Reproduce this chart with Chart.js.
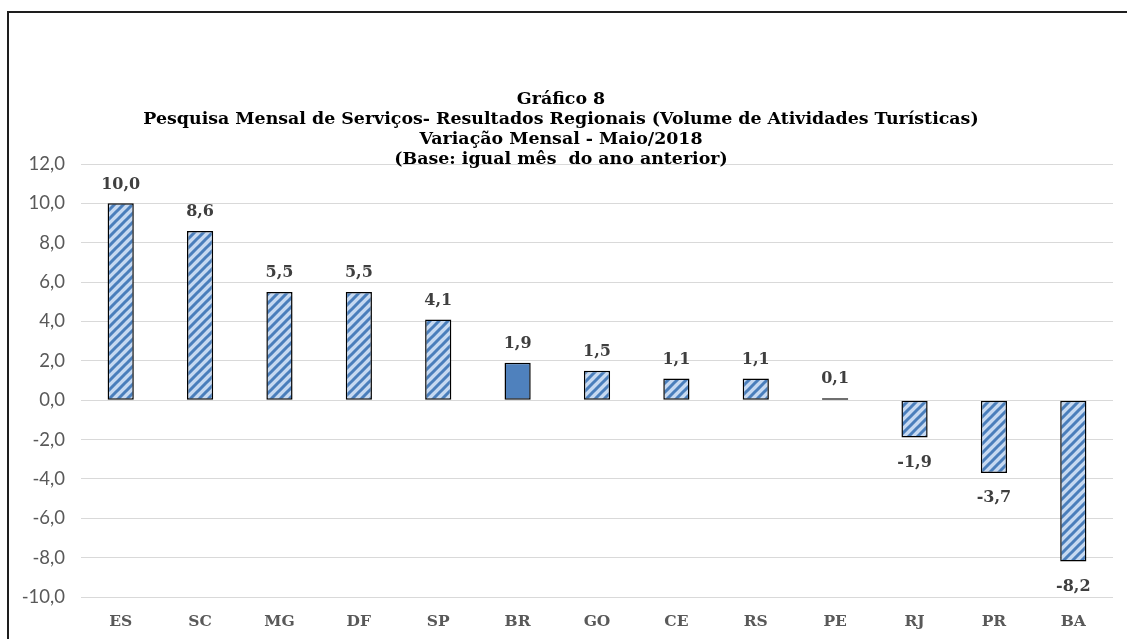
<!DOCTYPE html>
<html>
<head>
<meta charset="utf-8">
<script src="https://cdn.jsdelivr.net/npm/chart.js@4"></script>
<style>
  html, body { margin: 0; padding: 0; background: #fff; }
  #frame {
    position: absolute; left: 7px; top: 11px;
    width: 1118px; height: 626px;
    border-left: 2px solid #1e1e1e; border-top: 2px solid #1e1e1e;
  }
</style>
</head>
<body>
<div id="frame"><canvas id="plot"></canvas></div>
<script>
const titleLines = [
    'Gráfico 8',
    'Pesquisa Mensal de Serviços- Resultados Regionais (Volume de Atividades Turísticas)',
    'Variação Mensal - Maio/2018',
    '(Base: igual mês  do ano anterior)'
];
const regions = ['ES', 'SC', 'MG', 'DF', 'SP', 'BR', 'GO', 'CE', 'RS', 'PE', 'RJ', 'PR', 'BA'];
const variation = [10.0, 8.6, 5.5, 5.5, 4.1, 1.9, 1.5, 1.1, 1.1, 0.1, -1.9, -3.7, -8.2];
const solidRegion = 'BR';

const fmt = v => v.toFixed(1).replace('.', ',');

// hatched fill like Excel's wide upward diagonal
function makeHatch() {
    const n = 9;
    const c = document.createElement('canvas');
    c.width = n; c.height = n;
    const g = c.getContext('2d');
    g.fillStyle = '#c6d9f1';
    g.fillRect(0, 0, n, n);
    g.strokeStyle = '#4a7ebb';
    g.lineWidth = 3;
    g.beginPath();
    g.moveTo(-2, n + 2); g.lineTo(n + 2, -2);
    g.moveTo(-2, 2); g.lineTo(2, -2);
    g.moveTo(n - 2, n + 2); g.lineTo(n + 2, n - 2);
    g.stroke();
    return g.createPattern(c, 'repeat');
}
const hatch = makeHatch();

const valueLabels = {
    id: 'valueLabels',
    afterDatasetsDraw(chart) {
        const ctx = chart.ctx;
        const meta = chart.getDatasetMeta(0);
        ctx.save();
        ctx.font = 'bold 16px "DejaVu Serif"';
        ctx.fillStyle = '#3f3f3f';
        ctx.textAlign = 'center';
        ctx.textBaseline = 'middle';
        meta.data.forEach((bar, i) => {
            const v = variation[i];
            const y = v >= 0 ? bar.y - 19 : bar.y + 25;
            ctx.fillText(fmt(v), bar.x, y);
        });
        ctx.restore();
    }
};

new Chart(document.getElementById('plot').getContext('2d'), {
    type: 'bar',
    data: {
        labels: regions,
        datasets: [{
            data: variation,
            backgroundColor: regions.map(r => r === solidRegion ? '#4f81bd' : hatch),
            borderColor: '#000',
            borderWidth: 1.5,
            borderSkipped: false,
            barPercentage: 0.33,
            categoryPercentage: 1
        }]
    },
    options: {
        responsive: true,
        maintainAspectRatio: false,
        animation: false,
        layout: { padding: { left: 0, right: 14, top: 0, bottom: 0 } },
        plugins: {
            legend: { display: false },
            tooltip: { enabled: false },
            title: {
                display: true,
                text: titleLines,
                color: '#000',
                font: { family: 'DejaVu Serif', size: 17.4, weight: 'bold', lineHeight: 20 / 17.4 },
                padding: { top: 76, bottom: -5 }
            }
        },
        scales: {
            x: {
                grid: { display: false },
                border: { display: false },
                ticks: {
                    color: '#595959',
                    font: { family: 'DejaVu Serif', size: 15.5, weight: 'bold' },
                    padding: 8
                },
                afterFit: s => { s.height = 42; }
            },
            y: {
                min: -10,
                max: 12,
                grid: { color: '#d9d9d9', lineWidth: 1, drawTicks: false },
                border: { display: false },
                ticks: {
                    stepSize: 2,
                    color: '#595959',
                    font: { family: 'Lato', size: 18.5 },
                    padding: 16,
                    callback: v => fmt(v)
                },
                afterFit: s => { s.width = 72; }
            }
        }
    },
    plugins: [valueLabels]
});
</script>
</body>
</html>
